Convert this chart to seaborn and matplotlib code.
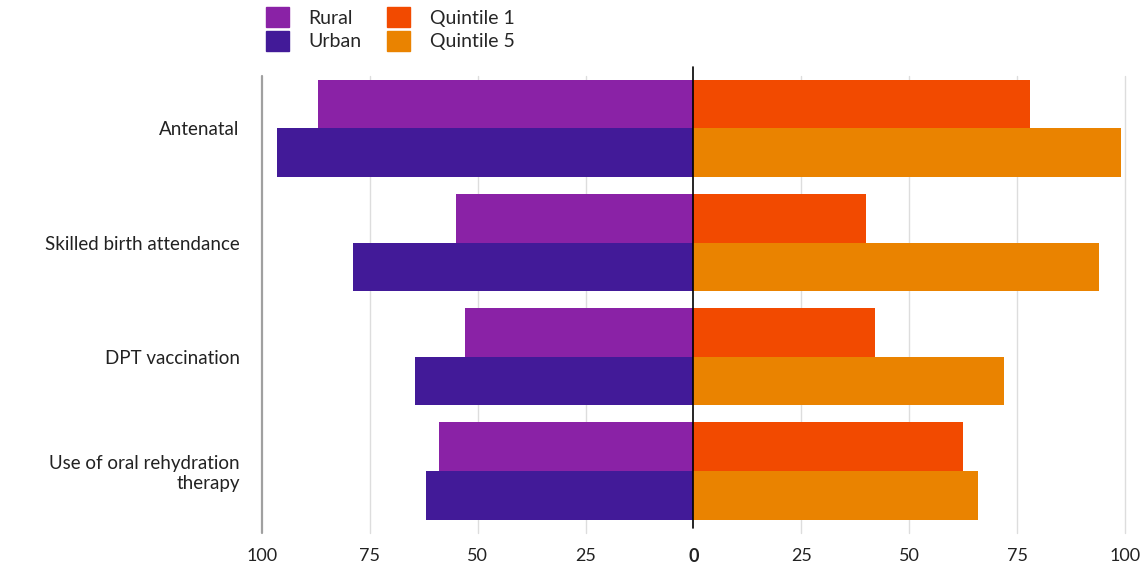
import matplotlib
matplotlib.use("Agg")
import matplotlib.pyplot as plt
import matplotlib.patches as mpatches
import seaborn as sns
import pandas as pd

# data (percent)
indicators = ["Antenatal", "Skilled birth attendance", "DPT vaccination",
              "Use of oral rehydration\ntherapy"]
rural = [87, 55, 53, 59]
urban = [96.5, 79, 64.5, 62]
quintile1 = [78, 40, 42, 62.5]
quintile5 = [99, 94, 72, 66]
ticks = [-100, -75, -50, -25, 0, 25, 50, 75, 100]

colors = {"Rural": "#8a22a6", "Urban": "#421a98",
          "Quintile 1": "#f24a00", "Quintile 5": "#ea8300"}

left = pd.DataFrame({
    "indicator": indicators * 2,
    "group": ["Rural"] * 4 + ["Urban"] * 4,
    "value": [-v for v in rural + urban],
})
right = pd.DataFrame({
    "indicator": indicators * 2,
    "group": ["Quintile 1"] * 4 + ["Quintile 5"] * 4,
    "value": quintile1 + quintile5,
})

sns.set_style("white")
plt.rcParams["font.family"] = ["Lato", "DejaVu Sans"]

fig = plt.figure(figsize=(11.45, 5.74), dpi=100)
ax = fig.add_axes([0.2288, 0.080, 0.7537, 0.796])

# grid lines behind bars
for t in ticks:
    if t == 0:
        continue
    col = "#a0a0a0" if t == -100 else "#dddddd"
    lw = 1.6 if t == -100 else 1.0
    ax.axvline(t, color=col, lw=lw, zorder=0, ymin=-0.01, ymax=0.99, clip_on=False)

sns.barplot(data=left, y="indicator", x="value", hue="group", orient="h",
            palette=colors, width=0.85, ax=ax, legend=False, saturation=1,
            errorbar=None, zorder=2, linewidth=0)
sns.barplot(data=right, y="indicator", x="value", hue="group", orient="h",
            palette=colors, width=0.85, ax=ax, legend=False, saturation=1,
            errorbar=None, zorder=2, linewidth=0)

ax.axvline(0, color="black", lw=1.2, zorder=3, ymin=0, ymax=1.01, clip_on=False)

ax.set_xlim(-100, 100)
ax.set_ylim(3.5, -0.5)
ax.set_xticks(ticks)
ax.set_xticklabels([str(abs(t)) for t in ticks], fontsize=13, color="#222222")
ax.get_xticklabels()[4].set_fontweight("bold")
ax.tick_params(axis="x", length=0, pad=14)
ax.tick_params(axis="y", length=0, pad=16, labelsize=13.5, labelcolor="#222222")
ax.set_xlabel("")
ax.set_ylabel("")
for lbl in ax.get_yticklabels():
    lbl.set_horizontalalignment("right")
    lbl.set_multialignment("right")
for s in ax.spines.values():
    s.set_visible(False)

handles = [mpatches.Patch(color=colors[k], label=k) for k in colors]
fig.legend(handles=handles, ncol=2, loc="upper left",
           bbox_to_anchor=(0.222, 1.008), frameon=False, fontsize=14,
           handlelength=1.2, handleheight=1.2, handletextpad=1.0,
           columnspacing=1.3, labelspacing=0.2, borderaxespad=0.2)

fig.savefig("out.png", dpi=100)
